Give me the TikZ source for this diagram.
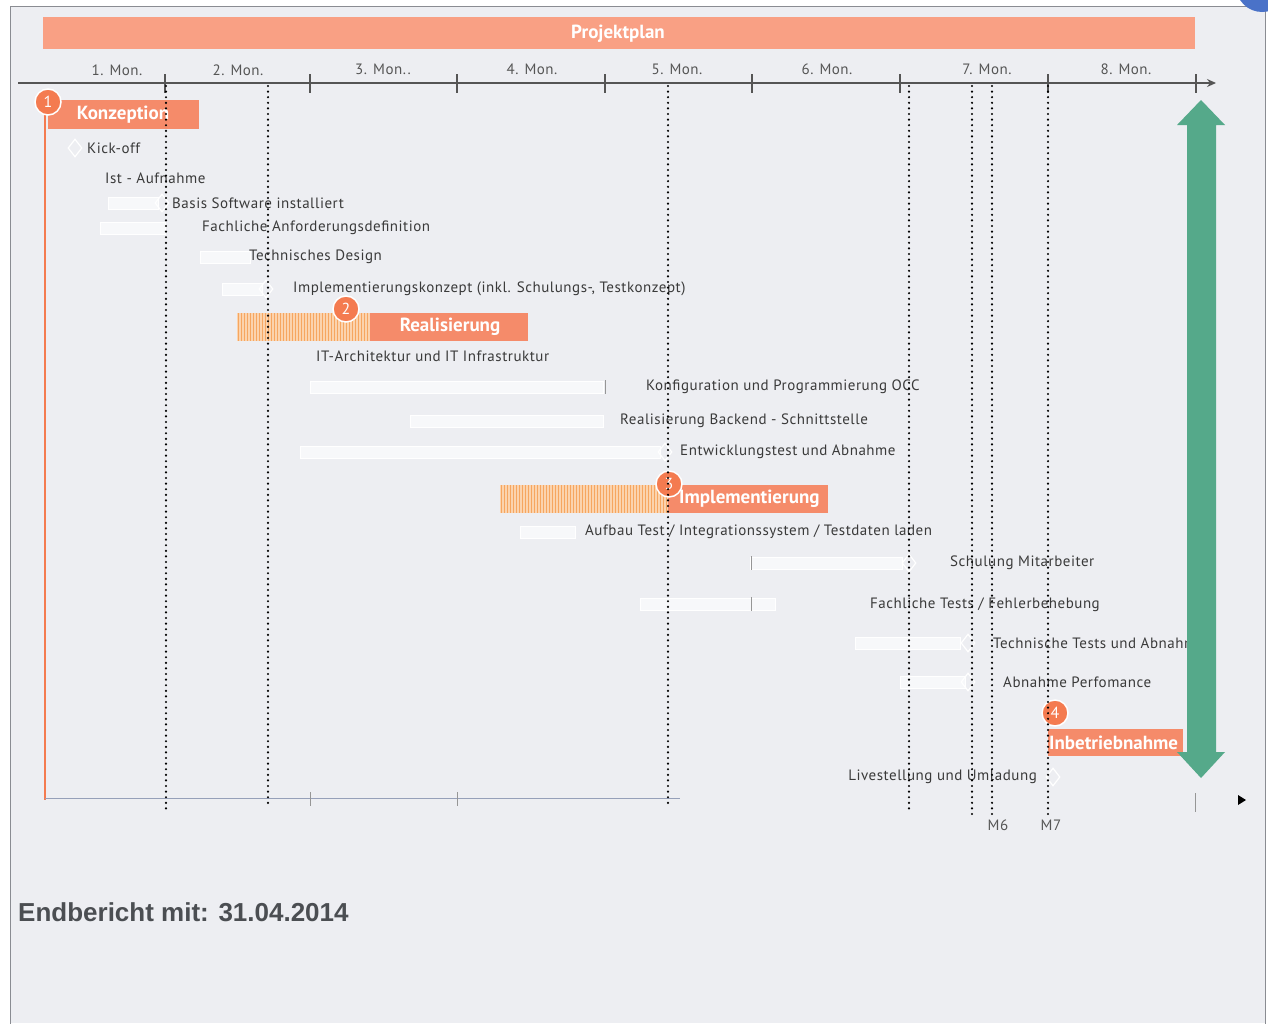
\documentclass[tikz,border=0pt]{standalone}
\usepackage{fontspec}
\setmainfont{Liberation Sans}
\newfontfamily\gfont{PT Sans}
\newfontfamily\tfont[LetterSpace=3.5]{PT Sans}
\usetikzlibrary{arrows.meta,shapes.geometric}
\definecolor{bg}{HTML}{EDEEF2}
\definecolor{frame}{HTML}{8A8C92}
\definecolor{salmon}{HTML}{F9A084}
\definecolor{phase}{HTML}{F58B6A}
\definecolor{numc}{HTML}{F47B50}
\definecolor{hatchbg}{HTML}{FBD3AE}
\definecolor{hatchln}{HTML}{F6A660}
\definecolor{txt}{HTML}{3A3A3A}
\definecolor{axis}{HTML}{555555}
\definecolor{green}{HTML}{55A98A}
\definecolor{faint}{HTML}{F7F8FA}
\definecolor{bluec}{HTML}{4A72C8}
\definecolor{baseln}{HTML}{96A0B9}
\definecolor{ltick}{HTML}{969696}
\definecolor{foot}{HTML}{4B4E52}
\tikzset{
  task/.style={font=\tfont\fontsize{15}{17}\selectfont, text=txt, inner sep=0pt, anchor=west},
  month/.style={font=\tfont\fontsize{15}{17}\selectfont, text=axis, inner sep=0pt},
  phasetxt/.style={font=\gfont\bfseries\fontsize{19}{21}\selectfont, text=white, inner sep=0pt},
  numcirc/.style={circle, fill=numc, draw=white, line width=1.5pt, minimum size=26pt, inner sep=0pt,
    font=\gfont\fontsize{16}{16}\selectfont, text=white},
  ms/.style={diamond, draw=white, line width=1.2pt, minimum width=14pt, minimum height=18pt, inner sep=0pt},
  fbar/.style={fill=faint, draw=white, line width=0.6pt},
  dotline/.style={line width=2.4pt, dash pattern=on 0pt off 5.6pt, line cap=round, black},
  tick/.style={line width=1.6pt, axis},
}
\begin{document}
\begin{tikzpicture}[x=1pt,y=-1pt]
\useasboundingbox (0,0) rectangle (1268,1023);
% background and frame
\fill[white] (0,0) rectangle (1268,1023);
\fill[bg] (10,6) rectangle (1265,1023);
\draw[frame, line width=1pt] (10,1030) -- (10,6) -- (1265,6) -- (1265,1030);
\begin{scope}
\clip (0,0) rectangle (1268,1023);
\fill[bluec] (1262,-14) circle (26);
\end{scope}
% title bar
\fill[salmon] (43,17) rectangle (1195,49);
\node[font=\gfont\bfseries\fontsize{19}{21}\selectfont, text=white] (title) at (618,34) {Projektplan};
% axis
\draw[axis, line width=1.6pt, -{Stealth[length=9pt,width=8pt]}] (18,83) -- (1216,83);
\foreach \x in {165,310,457,605,752,900,1048,1196} \draw[tick] (\x,74) -- (\x,93);
\node[month] (m1) at (117,70) {1. Mon.};
\node[month] (m2) at (238,70) {2. Mon.};
\node[month] (m3) at (383,69) {3. Mon..};
\node[month] (m4) at (532,69) {4. Mon.};
\node[month] (m5) at (677,69) {5. Mon.};
\node[month] (m6) at (827,69) {6. Mon.};
\node[month] (m7) at (987,69) {7. Mon.};
\node[month] (m8) at (1126,69) {8. Mon.};
% left orange line
\draw[numc, line width=2pt] (45,100) -- (45,800);
% bottom axis
\draw[baseln, line width=0.8pt] (45,798) -- (680,798);
\foreach \x in {310,457} \draw[ltick, line width=0.8pt] (\x,792) -- (\x,806);
\draw[ltick, line width=0.8pt] (1195,793) -- (1195,812);
\fill[black] (1238,795) -- (1246,800) -- (1238,805) -- cycle;
% Phase 1
\fill[phase] (48,100) rectangle (199,129);
\node[phasetxt] (p1) at (123,115) {Konzeption};
\node[numcirc] (c1) at (48,102) {1};
% tasks phase 1
\node[ms] (d1) at (75,148) {};
\node[task] (t1) at (87,148) {Kick-off};
\node[task] (t2) at (105,178) {Ist - Aufnahme};
\draw[fbar] (108,197) rectangle (158,209);
\node[ms] (d3) at (162,203) {};
\node[task] (t3) at (172,203) {Basis Software installiert};
\draw[fbar] (100,222) rectangle (165,234);
\node[task] (t4) at (202,228) {Fachliche Anforderungsdefinition};
\draw[fbar] (200,251) rectangle (250,263);
\node[task] (t5) at (249,257) {Technisches Design};
\draw[fbar] (222,283) rectangle (262,295);
\node[ms] (d6) at (266,289) {};
\node[task] (t6) at (293,289) {Implementierungskonzept (inkl. Schulungs-, Testkonzept)};
% Phase 2
\fill[hatchbg] (237,313) rectangle (370,341);
\foreach \x in {238,241,...,369} \draw[hatchln, line width=1pt] (\x,313) -- (\x,341);
\fill[phase] (370,313) rectangle (528,341);
\node[phasetxt] (p2) at (450,327) {Realisierung};
\node[numcirc] (c2) at (346,309) {2};
\node[task] (t7) at (316,356) {IT-Architektur und IT Infrastruktur};
\draw[fbar] (310,381) rectangle (603,393);
\draw[ltick, line width=0.8pt] (605,380) -- (605,394);
\node[task] (t8) at (646,387) {Konfiguration und Programmierung OCC};
\draw[fbar] (410,415) rectangle (603,427);
\node[task] (t9) at (620,421) {Realisierung Backend - Schnittstelle};
\draw[fbar] (300,446) rectangle (660,458);
\node[ms] (d10) at (665,452) {};
\node[task] (t10) at (680,452) {Entwicklungstest und Abnahme};
% Phase 3
\fill[hatchbg] (500,485) rectangle (668,513);
\foreach \x in {501,504,...,667} \draw[hatchln, line width=1pt] (\x,485) -- (\x,513);
\fill[phase] (668,485) rectangle (828,513);
\node[phasetxt, anchor=west] (p3) at (679,499) {Implementierung};
\node[numcirc] (c3) at (669,484) {3};
\draw[fbar] (520,526) rectangle (575,538);
\node[task] (t11) at (585,532) {Aufbau Test / Integrationssystem / Testdaten laden};
\draw[fbar] (750,557) rectangle (902,569);
\draw[ltick, line width=0.8pt] (751,556) -- (751,570);
\node[ms] (d12) at (909,563) {};
\node[task] (t12) at (950,563) {Schulung Mitarbeiter};
\draw[fbar] (640,598) rectangle (775,610);
\draw[ltick, line width=0.8pt] (751,597) -- (751,611);
\node[task] (t13) at (870,605) {Fachliche Tests / Fehlerbehebung};
\draw[fbar] (855,637) rectangle (960,649);
\node[ms] (d14) at (968,643) {};
\node[task] (t14) at (993,643) {Technische Tests und Abnahme};
\draw[fbar] (900,676) rectangle (965,688);
\node[ms] (d15) at (968,682) {};
\node[task] (t15) at (1003,682) {Abnahme Perfomance};
% Phase 4
\fill[phase] (1048,729) rectangle (1183,756);
\node[phasetxt, anchor=west] (p4) at (1049,743) {Inbetriebnahme};
\node[numcirc] (c4) at (1055,713) {4};
\node[ms] (d16) at (1053,777) {};
\node[task, anchor=east] (t16) at (1037,777) {Livestellung und Umladung};
\node[month] (M6) at (998,825) {M6};
\node[month] (M7) at (1051,825) {M7};
% green double arrow
\fill[green] (1201,100) -- (1225,125) -- (1216,125) -- (1216,752) -- (1225,752) -- (1201,778)
  -- (1177,752) -- (1187,752) -- (1187,125) -- (1177,125) -- cycle;
% dotted milestone lines
\draw[dotline] (166,86) -- (166,810);
\draw[dotline] (268,86) -- (268,805);
\draw[dotline] (668,86) -- (668,808);
\draw[dotline] (909,86) -- (909,810);
\draw[dotline] (972,86) -- (972,814);
\draw[dotline] (992,86) -- (992,814);
\draw[dotline] (1048,86) -- (1048,814);
% footer
\node[font=\bfseries\fontsize{26}{28}\selectfont, text=foot, anchor=west, inner sep=0pt] (end) at (18,912) {Endbericht mit: 31.04.2014};
\end{tikzpicture}
\end{document}
